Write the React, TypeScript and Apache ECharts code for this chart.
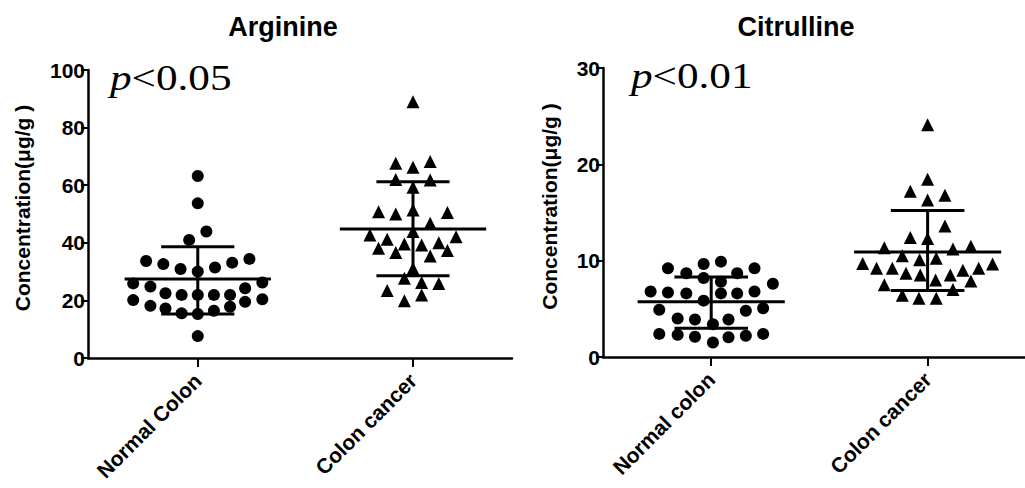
import React, { useEffect, useRef } from "react";
import * as echarts from "echarts";

// ---------- data ----------
const categoriesLeft = ["Normal Colon", "Colon cancer"];
const categoriesRight = ["Normal colon", "Colon cancer"];
const titles = ["Arginine", "Citrulline"];
const pLabels = ["<0.05", "<0.01"];
const yNames = ["Concentration(μg/g )", "Concentration(μg/g )"];
const yTicksLeft = { min: 0, max: 100, interval: 20 };
const yTicksRight = { min: 0, max: 30, interval: 10 };

// Arginine – Normal colon (circles)
const argNormal = [63.2, 53.7, 43.9, 41.0, 33.7, 32.6, 30.9, 30.0, 31.4, 33.1, 34.4, 25.9, 24.8, 26.2, 24.2,
  22.5, 21.9, 21.9, 21.9, 21.9, 20.1, 18.1, 19.5, 20.4, 17.2, 15.5, 15.3, 16.4, 17.8, 7.6];
const argNormalJitter = [0, 0, 0.04, -0.04, -0.24, -0.16, -0.08, 0, 0.08, 0.16, 0.24, -0.3, -0.22, 0.3, 0.22,
  -0.15, -0.075, 0, 0.075, 0.15, -0.3, -0.22, 0.22, 0.3, -0.15, -0.075, 0, 0.075, 0.15, 0];
// Arginine – Colon cancer (triangles)
const argCancer = [89.0, 67.6, 66.2, 68.2, 62.0, 61.8, 59.3, 50.8, 50.0, 51.4, 50.5, 46.8, 43.9, 42.7, 42.1,
  41.2, 39.6, 39.2, 40.0, 38.1, 37.3, 36.6, 35.4, 31.1, 27.7, 26.2, 25.9, 23.4, 21.9, 19.9];
const argCancerJitter = [0, -0.08, 0, 0.08, -0.08, 0.08, 0, -0.16, -0.08, 0, 0.16, 0.08, 0, -0.2, 0.2,
  -0.12, -0.04, 0.04, 0.12, -0.16, 0.16, -0.08, 0.08, 0, -0.04, 0.04, 0.12, -0.12, 0.04, -0.04];
// Citrulline – Normal colon (circles)
const citNormal = [9.2, 9.66, 9.9, 9.2, 8.7, 8.7, 8.2, 7.8, 7.6, 6.8, 6.7, 6.6, 6.6, 6.6, 6.8, 5.85, 4.9, 4.8, 5.06,
  4.0, 3.9, 3.9, 3.4, 2.4, 2.3, 2.1, 1.5, 2.05, 2.2, 2.4];
const citNormalJitter = [-0.2, -0.035, 0.045, 0.2, -0.115, 0.12, -0.035, 0.045, 0.285, -0.28, -0.2, -0.115, 0.045, 0.12, 0.2,
  -0.035, -0.24, 0.16, 0.24, -0.155, -0.075, 0.08, 0.008, -0.24, -0.155, -0.075, 0.008, 0.08, 0.16, 0.24];
// Citrulline – Colon cancer (triangles)
const citCancer = [24.1, 18.45, 17.2, 16.8, 16.3, 13.6, 12.4, 12.3, 11.35, 11.2, 11.5, 10.5, 10.1, 10.25, 9.7, 9.66,
  9.2, 9.2, 9.0, 9.2, 8.7, 8.5, 8.0, 8.5, 7.9, 7.5, 7.0, 6.4, 6.1, 6.1];
const citCancerJitter = [0, 0, -0.08, 0.08, 0, 0.08, -0.08, 0, -0.2, 0.117, 0.2, -0.117, -0.037, 0.04, -0.3, 0.3,
  -0.236, -0.163, 0.163, 0.236, -0.1, -0.034, 0.037, 0.105, 0.2, -0.2, 0.117, -0.117, -0.04, 0.04];

// mean and mean±SD per group: [normal, cancer]
const argMean = [27.4, 44.8];
const argUpper = [38.6, 61.2];
const argLower = [15.3, 28.6];
const citMean = [5.74, 10.9];
const citUpper = [8.3, 15.2];
const citLower = [2.98, 6.9];

// ---------- styling ----------
const SANS = "'Liberation Sans', Arial, sans-serif";
const SERIF = "'Liberation Serif', 'Times New Roman', serif";
const MEAN_HALF = 0.34;
const SD_HALF = 0.17;

function statSeries(idx: number, mean: number[], upper: number[], lower: number[]) {
  const out: any[] = [];
  const base = { type: "line", xAxisIndex: idx, yAxisIndex: idx, symbol: "none", silent: true,
    lineStyle: { color: "#000", width: 3 }, z: 3 };
  mean.forEach((m, c) => {
    out.push({ ...base, data: [[c - MEAN_HALF, m], [c + MEAN_HALF, m]] });
    out.push({ ...base, data: [[c - SD_HALF, upper[c]], [c + SD_HALF, upper[c]]] });
    out.push({ ...base, data: [[c - SD_HALF, lower[c]], [c + SD_HALF, lower[c]]] });
    out.push({ ...base, data: [[c, lower[c]], [c, upper[c]]] });
  });
  return out;
}

function scatter(idx: number, c: number, vals: number[], jit: number[], symbol: string, size: number) {
  return {
    type: "scatter", xAxisIndex: idx, yAxisIndex: idx, symbol, symbolSize: size,
    itemStyle: { color: "#000", opacity: 1 }, z: 2,
    data: vals.map((v, i) => [c + jit[i], v]),
  };
}

function xAxis(idx: number, cats: string[], min: number, max: number) {
  return {
    type: "value", gridIndex: idx, min, max,
    splitLine: { show: false },
    axisLine: { show: true, onZero: false, lineStyle: { color: "#000", width: 2.5 } },
    axisTick: { show: true, customValues: [0, 1], length: 9, lineStyle: { color: "#000", width: 2 } },
    axisLabel: {
      show: true, customValues: [0, 1], rotate: 45, margin: 19,
      formatter: (v: number) => cats[Math.round(v)],
      color: "#000", fontFamily: SANS, fontWeight: "bold", fontSize: 21,
    },
  };
}

function yAxis(idx: number, t: { min: number; max: number; interval: number }, name: string, gap: number) {
  return {
    type: "value", gridIndex: idx, min: t.min, max: t.max, interval: t.interval,
    name, nameLocation: "middle", nameGap: gap, nameRotate: 90,
    nameTextStyle: { color: "#000", fontFamily: SANS, fontWeight: "bold", fontSize: 21, padding: [0, 0, 0, 12] },
    splitLine: { show: false },
    axisLine: { show: true, onZero: false, lineStyle: { color: "#000", width: 2.5 } },
    axisTick: { show: true, length: 7, lineStyle: { color: "#000", width: 2 } },
    axisLabel: { color: "#000", fontFamily: SANS, fontWeight: "bold", fontSize: 21, margin: 3 },
  };
}

export default function App() {
  const ref = useRef<HTMLDivElement>(null);
  useEffect(() => {
    const chart = echarts.init(ref.current!, null, { renderer: "svg" });
    chart.setOption({
      animation: false,
      backgroundColor: "#fff",
      grid: [
        { left: 88, right: 1025 - 512, top: 70, bottom: 488 - 358 },
        { left: 603, right: 0, top: 68, bottom: 488 - 357 },
      ],
      title: [
        { text: titles[0], left: 278, top: 8, textAlign: "center",
          textStyle: { fontFamily: SANS, fontWeight: "bold", fontSize: 27, color: "#000" } },
        { text: titles[1], left: 791, top: 8, textAlign: "center",
          textStyle: { fontFamily: SANS, fontWeight: "bold", fontSize: 27, color: "#000" } },
      ],
      xAxis: [xAxis(0, categoriesLeft, -0.51, 1.46), xAxis(1, categoriesRight, -0.5, 1.45)],
      yAxis: [yAxis(0, yTicksLeft, yNames[0], 55), yAxis(1, yTicksRight, yNames[1], 43)],
      graphic: [
        { type: "text", x: 110, y: 60, scaleX: 1.2,
          style: { text: "{i|p}" + pLabels[0], rich: { i: { fontStyle: "italic", fontFamily: SERIF, fontSize: 36 } },
            fontFamily: SERIF, fontSize: 36, fill: "#000" } },
        { type: "text", x: 631, y: 58, scaleX: 1.2,
          style: { text: "{i|p}" + pLabels[1], rich: { i: { fontStyle: "italic", fontFamily: SERIF, fontSize: 36 } },
            fontFamily: SERIF, fontSize: 36, fill: "#000" } },
      ],
      series: [
        scatter(0, 0, argNormal, argNormalJitter, "circle", 12),
        scatter(0, 1, argCancer, argCancerJitter, "triangle", 13),
        ...statSeries(0, argMean, argUpper, argLower),
        scatter(1, 0, citNormal, citNormalJitter, "circle", 12),
        scatter(1, 1, citCancer, citCancerJitter, "triangle", 13),
        ...statSeries(1, citMean, citUpper, citLower),
      ],
    });
    return () => chart.dispose();
  }, []);
  return <div ref={ref} style={{ width: 1025, height: 488, position: "absolute", left: 0, top: 0 }} />;
}
